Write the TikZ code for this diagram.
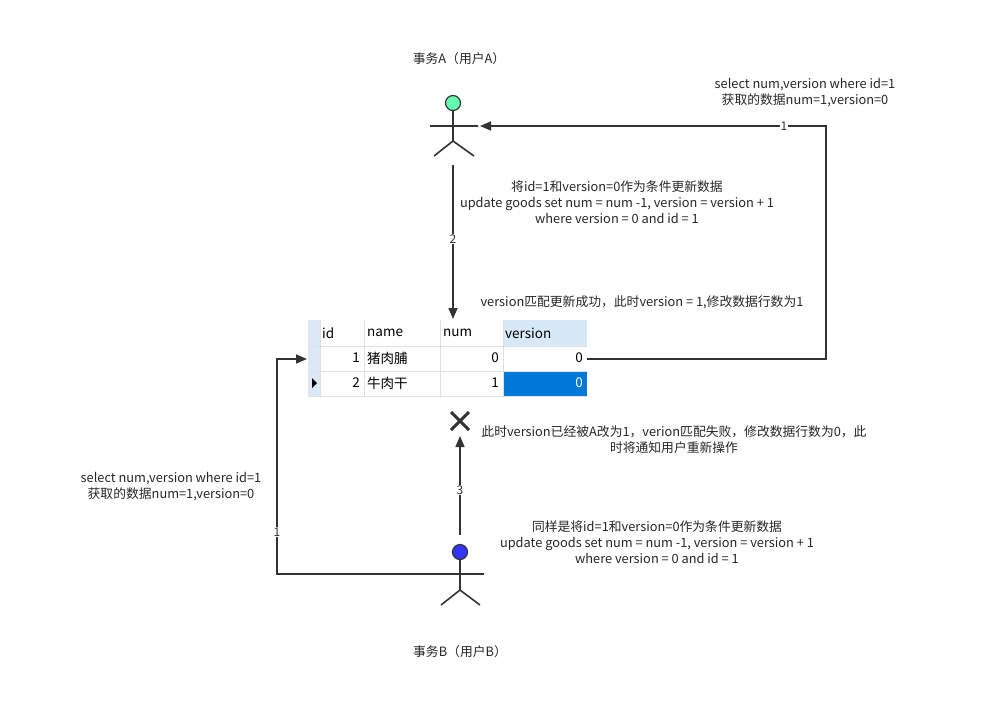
\documentclass[tikz,border=0pt]{standalone}
\usepackage{fontspec}
\setmainfont{Noto Sans CJK SC}
\usetikzlibrary{arrows.meta}
\definecolor{headA}{RGB}{102,255,178}
\definecolor{headB}{RGB}{51,51,255}
\definecolor{hdr}{RGB}{215,232,248}
\definecolor{sel}{RGB}{0,120,215}
\definecolor{markcol}{RGB}{220,232,245}
\begin{document}
\begin{tikzpicture}[x=1pt,y=-1pt,
  txt/.style={font=\fontsize{12.8}{16}\selectfont,text=black!85,align=center,inner sep=0},
  ln/.style={draw=black!80,line width=1.6pt},
  arr/.style={ln,-{Triangle[length=11pt,width=9pt]}},
  lab/.style={font=\fontsize{12}{12}\selectfont,fill=white,inner sep=1pt,text=black!80},
  cell/.style={font=\fontsize{13.5}{14}\selectfont,inner sep=0,text=black}]
\useasboundingbox (0,0) rectangle (985,723);
% actor A
\node[circle,draw=black!80,line width=1.2pt,fill=headA,minimum size=15pt,inner sep=0] (ha) at (453,103) {};
\draw[ln] (ha.south) -- (453,141) -- (434,156) (453,141) -- (474,156) (430,126) -- (478,126);
\coordinate (ahand) at (480,126);
\coordinate (afoot) at (453,165);
\node[txt] (ta) at (459,59) {事务A（用户A）};
% actor B
\node[circle,draw=black!80,line width=1.2pt,fill=headB,minimum size=15pt,inner sep=0] (hb) at (460,552) {};
\draw[ln] (hb.south) -- (460,590) -- (441,605) (460,590) -- (480,605) (437,574) -- (484,574);
\coordinate (bhand) at (437,574);
\coordinate (btop) at (460,535);
\node[txt] (tb) at (460,652) {事务B（用户B）};
% table
\fill[markcol] (308,320) rectangle (320,396);
\fill[hdr] (503,320) rectangle (587,346);
\fill[sel] (503,371) rectangle (587,396);
\draw[black!12,line width=0.8pt] (320,320) -- (320,396) (364,320) -- (364,396) (440,320) -- (440,396) (503,320) -- (503,396)
  (308,346) -- (587,346) (308,371) -- (587,371) (308,396) -- (587,396);
\fill[black] (312,378) -- (317,383) -- (312,388) -- cycle;
\node[cell,anchor=west] (h1) at (322,333) {id};
\node[cell,anchor=west] (h2) at (367,333) {name};
\node[cell,anchor=west] (h3) at (443,333) {num};
\node[cell,anchor=west] (h4) at (505,333) {version};
\node[cell,anchor=east] (c11) at (360,358) {1};
\node[cell,anchor=west] (c12) at (367,358) {猪肉脯};
\node[cell,anchor=east] (c13) at (499,358) {0};
\node[cell,anchor=east] (c14) at (583,358) {0};
\node[cell,anchor=east] (c21) at (360,383) {2};
\node[cell,anchor=west] (c22) at (367,383) {牛肉干};
\node[cell,anchor=east] (c23) at (499,383) {1};
\node[cell,anchor=east,text=white] (c24) at (583,383) {0};
\coordinate (tr) at (587,359);
\coordinate (tl) at (307,359);
\coordinate (ttop) at (453,319);
% X
\draw[black!80,line width=3pt] (451,412) -- (469,430) (469,412) -- (451,430);
\coordinate (x) at (460,436);
% connectors
\draw[arr] (tr) -- (826,359) -- (826,126) -- (ahand);
\node[lab] at (784,126) {1};
\draw[arr] (afoot) -- (ttop);
\node[lab] at (453,239) {2};
\draw[arr] (btop) -- (x);
\node[lab] at (460,490) {3};
\draw[arr] (bhand) -- (277,574) -- (277,359) -- (tl);
\node[lab] at (277,532) {1};
% texts
\node[txt] at (805,93) {select num,version where id=1\\获取的数据num=1,version=0};
\node[txt] at (617,202) {将id=1和version=0作为条件更新数据\\update goods set num = num -1, version = version + 1\\where version = 0 and id = 1};
\node[txt] at (642,302) {version匹配更新成功，此时version = 1,修改数据行数为1};
\node[txt] at (674,440) {此时version已经被A改为1，verion匹配失败，修改数据行数为0，此\\时将通知用户重新操作};
\node[txt] at (171,487) {select num,version where id=1\\获取的数据num=1,version=0};
\node[txt] at (657,542) {同样是将id=1和version=0作为条件更新数据\\update goods set num = num -1, version = version + 1\\where version = 0 and id = 1};
\end{tikzpicture}
\end{document}
